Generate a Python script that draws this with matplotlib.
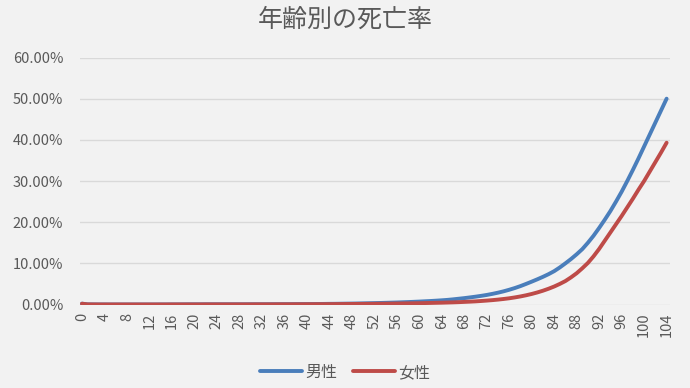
import matplotlib
matplotlib.use("Agg")
import matplotlib.pyplot as plt
from matplotlib.ticker import FuncFormatter, FixedLocator

plt.rcParams['font.family'] = ['Noto Sans CJK JP', 'DejaVu Sans']

ages = list(range(0, 105))

male = [
    0.0021, 0.0004, 0.0003, 0.0002, 0.0002, 0.0001, 0.0001, 0.0001, 0.0001, 0.0001,
    0.0001, 0.0001, 0.0001, 0.0001, 0.0002, 0.0002, 0.0003, 0.0003, 0.0004, 0.0005,
    0.0005, 0.0005, 0.0006, 0.0006, 0.0006, 0.0006, 0.0006, 0.0006, 0.0006, 0.0006,
    0.0007, 0.0007, 0.0007, 0.0007, 0.0008, 0.0008, 0.0009, 0.0009, 0.0010, 0.0011,
    0.0011, 0.0012, 0.0013, 0.0014, 0.0016, 0.0017, 0.0019, 0.0021, 0.0023, 0.0025,
    0.0028, 0.0031, 0.0034, 0.0037, 0.0041, 0.0045, 0.0049, 0.0054, 0.0059, 0.0065,
    0.0071, 0.0078, 0.0085, 0.0093, 0.0102, 0.0112, 0.0125, 0.0140, 0.0155, 0.0172,
    0.0190, 0.0210, 0.0232, 0.0258, 0.0287, 0.0320, 0.0358, 0.0400, 0.0447, 0.0500,
    0.0555, 0.0612, 0.0672, 0.0737, 0.0810, 0.0900, 0.1000, 0.1105, 0.1220, 0.1345,
    0.1500, 0.1670, 0.1860, 0.2060, 0.2270, 0.2500, 0.2740, 0.3000, 0.3270, 0.3550,
    0.3840, 0.4130, 0.4420, 0.4710, 0.5000,
]

female = [
    0.0019, 0.0003, 0.0002, 0.0001, 0.0001, 0.0001, 0.0001, 0.0001, 0.0001, 0.0001,
    0.0001, 0.0001, 0.0001, 0.0001, 0.0001, 0.0001, 0.0002, 0.0002, 0.0002, 0.0002,
    0.0002, 0.0002, 0.0003, 0.0003, 0.0003, 0.0003, 0.0003, 0.0003, 0.0003, 0.0003,
    0.0003, 0.0004, 0.0004, 0.0004, 0.0004, 0.0005, 0.0005, 0.0005, 0.0006, 0.0006,
    0.0007, 0.0007, 0.0008, 0.0008, 0.0009, 0.0010, 0.0011, 0.0012, 0.0013, 0.0014,
    0.0015, 0.0016, 0.0017, 0.0019, 0.0020, 0.0022, 0.0024, 0.0026, 0.0028, 0.0030,
    0.0032, 0.0035, 0.0038, 0.0041, 0.0044, 0.0048, 0.0052, 0.0057, 0.0063, 0.0069,
    0.0076, 0.0085, 0.0095, 0.0106, 0.0119, 0.0134, 0.0151, 0.0172, 0.0196, 0.0224,
    0.0256, 0.0293, 0.0335, 0.0383, 0.0437, 0.0500, 0.0570, 0.0660, 0.0760, 0.0880,
    0.1010, 0.1170, 0.1350, 0.1550, 0.1750, 0.1950, 0.2150, 0.2360, 0.2570, 0.2790,
    0.3000, 0.3230, 0.3460, 0.3690, 0.3930,
]

x_ticks = list(range(0, 105, 4))
y_ticks = [0.0, 0.1, 0.2, 0.3, 0.4, 0.5, 0.6]

title = "年齢別の死亡率"
labels = ["男性", "女性"]
colors = ["#4a7ebb", "#be4b48"]

bg = "#f2f2f2"
txt = "#595959"

fig = plt.figure(figsize=(6.9, 3.88), dpi=100, facecolor=bg)
ax = fig.add_axes([0.1159, 0.2152, 0.8551, 0.6366], facecolor=bg)

ax.plot(ages, male, color=colors[0], lw=2.8, label=labels[0], solid_capstyle='round', zorder=3)
ax.plot(ages, female, color=colors[1], lw=2.8, label=labels[1], solid_capstyle='round', zorder=4)

ax.set_xlim(-0.35, 104.6)
ax.set_ylim(0, 0.6)
ax.yaxis.set_major_locator(FixedLocator(y_ticks))
ax.yaxis.set_major_formatter(FuncFormatter(lambda v, p: f"{v*100:.2f}%"))
ax.xaxis.set_major_locator(FixedLocator(x_ticks))
ax.set_xticklabels([str(t) for t in x_ticks], rotation=90)

ax.grid(axis='y', color='#d9d9d9', lw=1.0, zorder=0)
ax.set_axisbelow(True)
for s in ax.spines.values():
    s.set_visible(False)
ax.tick_params(axis='both', length=0, colors=txt, labelsize=10.5)
ax.tick_params(axis='y', pad=12)
ax.tick_params(axis='x', pad=6)

fig.text(0.5, 0.948, title, ha='center', va='center', fontsize=18, color=txt)

leg = fig.legend(loc='center', bbox_to_anchor=(0.5, 0.04), ncol=2, frameon=False,
                 fontsize=11.5, handlelength=2.6, columnspacing=1.0, handletextpad=0.2)
for t in leg.get_texts():
    t.set_color(txt)

fig.savefig("out.png", dpi=100, facecolor=bg)
